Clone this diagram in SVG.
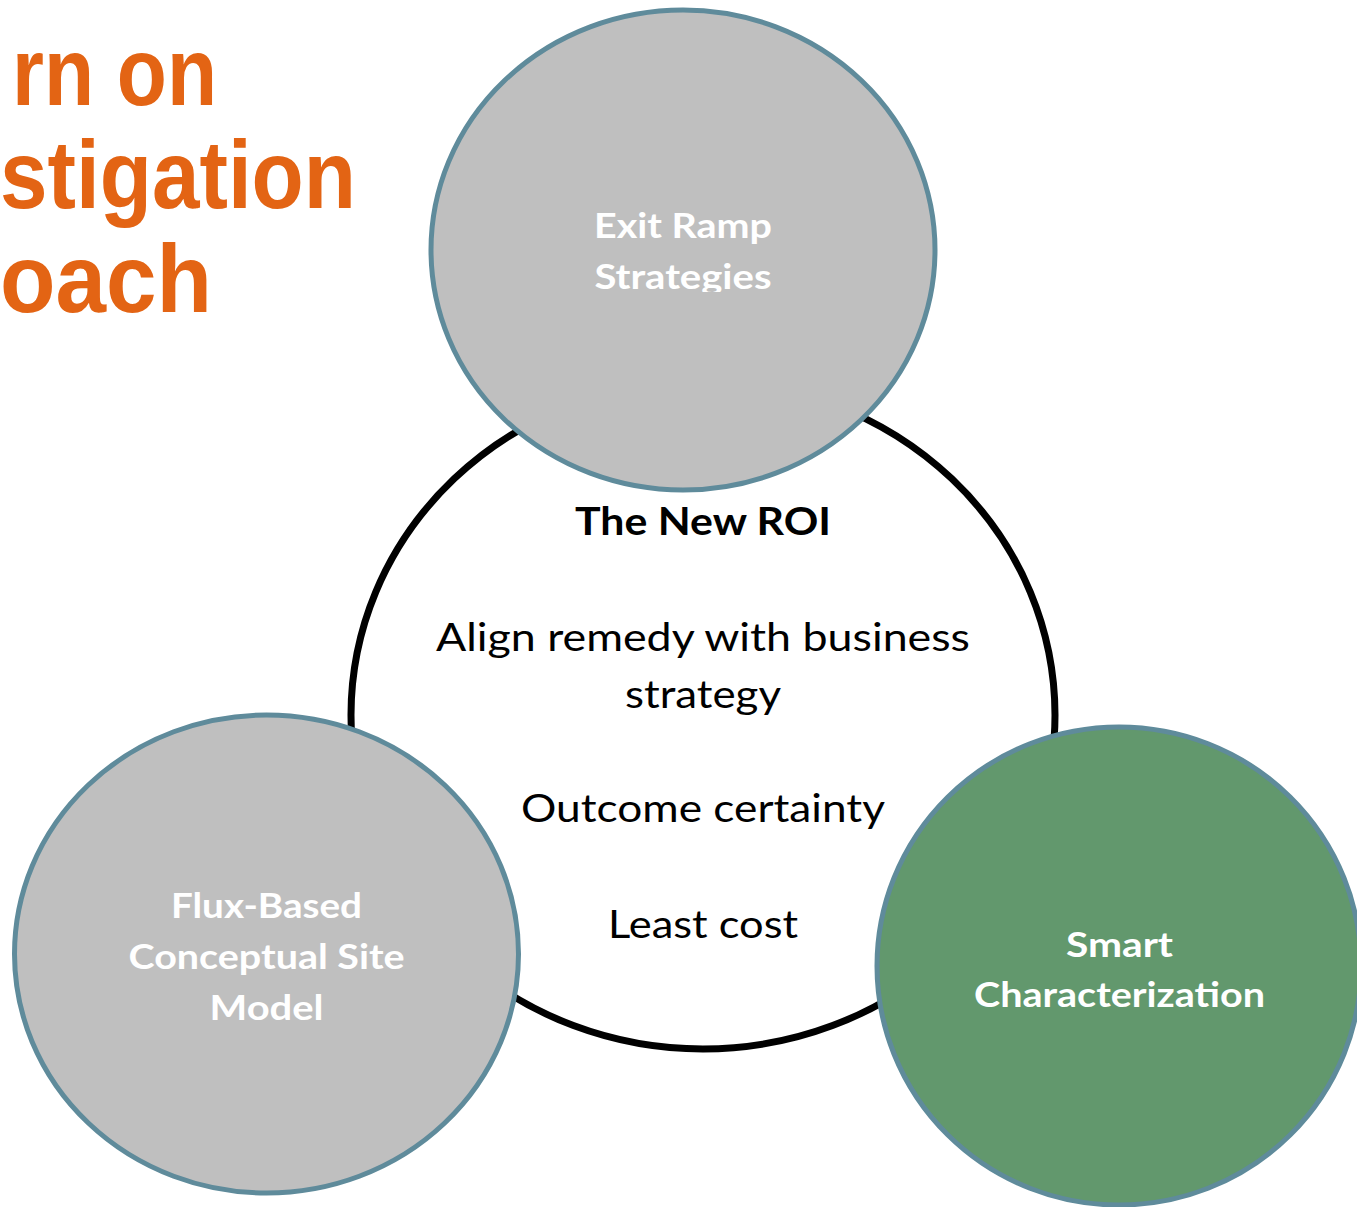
<svg xmlns="http://www.w3.org/2000/svg" width="1357" height="1207" viewBox="0 0 1357 1207">
<style>
.title{font-family:"Liberation Sans",Arial,sans-serif;font-weight:bold;font-size:96px;fill:#e36414}
.node{stroke:#5f8b9b;stroke-width:5}
.gray{fill:#bfbfbf}
.green{fill:#62986d}
.nl{font-family:Lato,"Open Sans",sans-serif;font-weight:bold;font-size:35px;fill:#ffffff;text-anchor:middle}
.body{font-family:Lato,"Open Sans",sans-serif;font-size:39px;fill:#000000;text-anchor:middle}
.bodyb{font-family:Lato,"Open Sans",sans-serif;font-weight:bold;font-size:39px;fill:#000000;text-anchor:middle}
</style>
<defs>
<clipPath id="clipTop"><rect x="400" y="0" width="560" height="292"/></clipPath>
</defs>
<rect width="1357" height="1207" fill="#ffffff"/>
<g id="title">
<text class="title" x="12" y="105" textLength="205" lengthAdjust="spacingAndGlyphs">rn on</text>
<text class="title" x="0" y="208" textLength="356" lengthAdjust="spacingAndGlyphs">stigation</text>
<text class="title" x="0" y="312" textLength="212" lengthAdjust="spacingAndGlyphs">oach</text>
</g>
<g id="connectors"></g>
<g id="roi">
<ellipse cx="703" cy="715" rx="352" ry="334" fill="#ffffff" stroke="#000000" stroke-width="7"/>
<text class="bodyb" x="703" y="535" textLength="256" lengthAdjust="spacingAndGlyphs">The New ROI</text>
<text class="body" x="703" y="651" textLength="534" lengthAdjust="spacingAndGlyphs">Align remedy with business</text>
<text class="body" x="703" y="708" textLength="156" lengthAdjust="spacingAndGlyphs">strategy</text>
<text class="body" x="703" y="822" textLength="364" lengthAdjust="spacingAndGlyphs">Outcome certainty</text>
<text class="body" x="703" y="938" textLength="190" lengthAdjust="spacingAndGlyphs">Least cost</text>
</g>
<g id="exit-ramp">
<ellipse class="node gray" cx="683" cy="250" rx="252" ry="240"/>
<g clip-path="url(#clipTop)">
<text class="nl" x="683" y="238" textLength="178" lengthAdjust="spacingAndGlyphs">Exit Ramp</text>
<text class="nl" x="683" y="289" textLength="177" lengthAdjust="spacingAndGlyphs">Strategies</text>
</g>
</g>
<g id="flux">
<ellipse class="node gray" cx="266.5" cy="954" rx="252" ry="239"/>
<text class="nl" x="266.5" y="918" textLength="191" lengthAdjust="spacingAndGlyphs">Flux-Based</text>
<text class="nl" x="266.5" y="969" textLength="276" lengthAdjust="spacingAndGlyphs">Conceptual Site</text>
<text class="nl" x="266.5" y="1020" textLength="114" lengthAdjust="spacingAndGlyphs">Model</text>
</g>
<g id="smart">
<ellipse class="node green" cx="1119" cy="966" rx="242" ry="239"/>
<text class="nl" x="1119.5" y="957" textLength="107" lengthAdjust="spacingAndGlyphs">Smart</text>
<text class="nl" x="1119.5" y="1007" textLength="291" lengthAdjust="spacingAndGlyphs">Characterization</text>
</g>
</svg>
